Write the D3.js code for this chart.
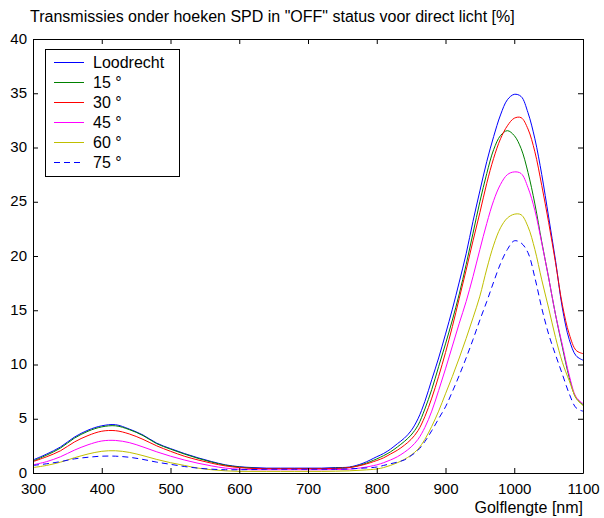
<!DOCTYPE html>
<html><head><meta charset="utf-8">
<script src="https://cdn.jsdelivr.net/npm/d3@7"></script>
<style>
body{margin:0;background:#fff;}
svg text{font-family:"Liberation Sans",Arial,sans-serif;}
</style></head>
<body><svg id="c" width="604" height="518"></svg>
<script>
const title = 'Transmissies onder hoeken SPD in "OFF" status voor direct licht [%]';
const xLabel = 'Golflengte [nm]';
const wavelengths = [300,320,340,360,380,400,420,440,460,480,500,520,540,560,580,600,620,640,660,680,700,720,740,760,780,
  800,810,820,830,840,850,860,870,880,890,900,910,920,930,940,950,960,970,980,990,1000,1010,1020,1030,1040,1050,1060,1070,1080,1090,1100];
const seriesNames = ['Loodrecht','15 °','30 °','45 °','60 °','75 °'];
const loodrecht = [1.2,1.75,2.4,3.3,3.95,4.35,4.45,4.05,3.5,2.75,2.25,1.8,1.4,1.05,0.75,0.58,0.5,0.45,0.45,0.45,0.45,0.45,0.5,0.55,0.9,
  1.5,1.8,2.2,2.7,3.2,3.9,5.0,6.6,8.6,10.6,12.8,15.1,17.6,20.2,23.2,26.0,28.7,31.0,33.0,34.4,34.9,34.7,33.2,30.8,27.5,23.6,19.6,15.2,12.3,10.8,10.4];
const hoek15 = [1.1,1.65,2.3,3.2,3.85,4.25,4.35,4.0,3.45,2.7,2.2,1.75,1.35,1.0,0.72,0.55,0.45,0.4,0.4,0.4,0.4,0.4,0.45,0.5,0.8,
  1.3,1.6,1.95,2.4,2.9,3.5,4.4,5.9,7.7,9.8,11.9,14.1,16.5,19.2,22.1,25.0,27.6,29.8,31.1,31.55,31.1,29.9,27.7,24.8,21.3,18.0,14.6,11.6,8.8,6.9,6.3];
const hoek30 = [1.05,1.5,2.05,2.85,3.45,3.85,3.9,3.6,3.1,2.5,2.0,1.55,1.2,0.9,0.65,0.5,0.42,0.4,0.4,0.4,0.4,0.4,0.42,0.5,0.75,
  1.15,1.4,1.75,2.1,2.55,3.1,3.9,5.2,6.9,8.9,11.1,13.5,16.1,18.7,21.4,24.0,26.7,29.0,30.8,32.0,32.7,32.75,31.7,29.6,26.5,23.1,19.4,15.5,12.8,11.3,11.0];
const hoek45 = [0.75,1.05,1.5,2.1,2.6,2.95,3.0,2.8,2.4,1.95,1.55,1.2,0.9,0.65,0.45,0.35,0.3,0.3,0.3,0.3,0.3,0.3,0.32,0.35,0.5,
  0.75,0.95,1.2,1.5,1.9,2.4,3.1,4.2,5.7,7.6,9.6,11.7,13.8,15.8,18.1,20.6,23.0,25.1,26.6,27.5,27.75,27.6,26.3,24.2,21.2,18.0,14.6,11.8,9.0,7.0,6.4];
const hoek60 = [0.5,0.7,1.0,1.4,1.75,2.0,2.05,1.9,1.6,1.25,0.95,0.7,0.45,0.3,0.2,0.15,0.15,0.15,0.15,0.15,0.15,0.15,0.17,0.2,0.27,
  0.37,0.5,0.7,0.95,1.25,1.65,2.2,3.1,4.3,5.7,7.3,8.9,10.6,12.4,14.3,16.3,18.8,21.0,22.6,23.5,23.85,23.8,22.7,20.6,17.8,15.2,12.5,10.2,8.5,6.9,6.2];
const hoek75 = [0.7,0.85,1.05,1.3,1.45,1.55,1.55,1.45,1.25,1.0,0.8,0.6,0.45,0.35,0.3,0.3,0.32,0.35,0.35,0.35,0.35,0.35,0.35,0.38,0.45,
  0.55,0.7,0.85,1.0,1.2,1.6,2.1,2.9,3.9,5.0,6.1,7.5,9.0,10.6,12.3,14.1,15.8,17.6,19.3,20.6,21.4,21.2,20.3,18.0,15.2,12.8,10.9,9.1,7.3,6.0,5.7];
const xTicks = [300,400,500,600,700,800,900,1000,1100];
const yTicks = [0,5,10,15,20,25,30,35,40];

const allSeries = [loodrecht,hoek15,hoek30,hoek45,hoek60,hoek75];
const colors = ['#0000ff','#008000','#ff0000','#ff00ff','#bfbf00','#0000ff'];
const dashes = [null,null,null,null,null,'6,4'];

const L=33,R=583,T=39,B=473;
const svg = d3.select('#c');
const x = d3.scaleLinear().domain([300,1100]).range([L,R]);
const y = d3.scaleLinear().domain([0,40]).range([B,T]);

svg.append('text').attr('x',30).attr('y',22).attr('font-size',16).attr('fill','#000').text(title);

const line = d3.line().x((d,i)=>x(wavelengths[i])).y(d=>y(d)).curve(d3.curveCatmullRom.alpha(0.5));
const g = svg.append('g');
allSeries.forEach((s,k)=>{
  g.append('path').datum(s).attr('d',line).attr('fill','none').attr('stroke',colors[k]).attr('stroke-width',1)
   .attr('stroke-dasharray',dashes[k]);
});

function styleAxis(sel){
  sel.selectAll('path.domain').attr('stroke','#000');
  sel.selectAll('line').attr('stroke','#000');
  sel.selectAll('text').attr('font-size',15).attr('fill','#000').attr('font-family','"Liberation Sans",Arial,sans-serif');
}
const fmt = d3.format('d');
const ax1 = svg.append('g').attr('transform',`translate(0,${B})`)
  .call(d3.axisBottom(x).tickValues(xTicks).tickFormat(fmt).tickSizeInner(-5).tickSizeOuter(0).tickPadding(10));
styleAxis(ax1);
const ax2 = svg.append('g').attr('transform',`translate(${L},0)`)
  .call(d3.axisLeft(y).tickValues(yTicks).tickFormat(fmt).tickSizeInner(-5).tickSizeOuter(0).tickPadding(6));
styleAxis(ax2);
ax2.selectAll('text').attr('dy','0.28em');
const ax3 = svg.append('g').attr('transform',`translate(0,${T})`)
  .call(d3.axisTop(x).tickValues(xTicks).tickSizeInner(-5).tickSizeOuter(0).tickFormat(''));
styleAxis(ax3);
const ax4 = svg.append('g').attr('transform',`translate(${R},0)`)
  .call(d3.axisRight(y).tickValues(yTicks).tickSizeInner(-5).tickSizeOuter(0).tickFormat(''));
styleAxis(ax4);

svg.append('text').attr('x',R).attr('y',513).attr('text-anchor','end').attr('font-size',16).attr('fill','#000').text(xLabel);

// legend
const lg = svg.append('g');
lg.append('rect').attr('x',45.5).attr('y',49.5).attr('width',134).attr('height',127).attr('fill','#fff').attr('stroke','#000');
seriesNames.forEach((n,k)=>{
  const yy = 62 + k*20;
  lg.append('line').attr('x1',54).attr('x2',84).attr('y1',yy+0.5).attr('y2',yy+0.5)
    .attr('stroke',colors[k]).attr('stroke-width',1).attr('stroke-dasharray',dashes[k]);
  lg.append('text').attr('x',93).attr('y',yy+5.5).attr('font-size',16).attr('fill','#000').text(n);
});
</script></body></html>
